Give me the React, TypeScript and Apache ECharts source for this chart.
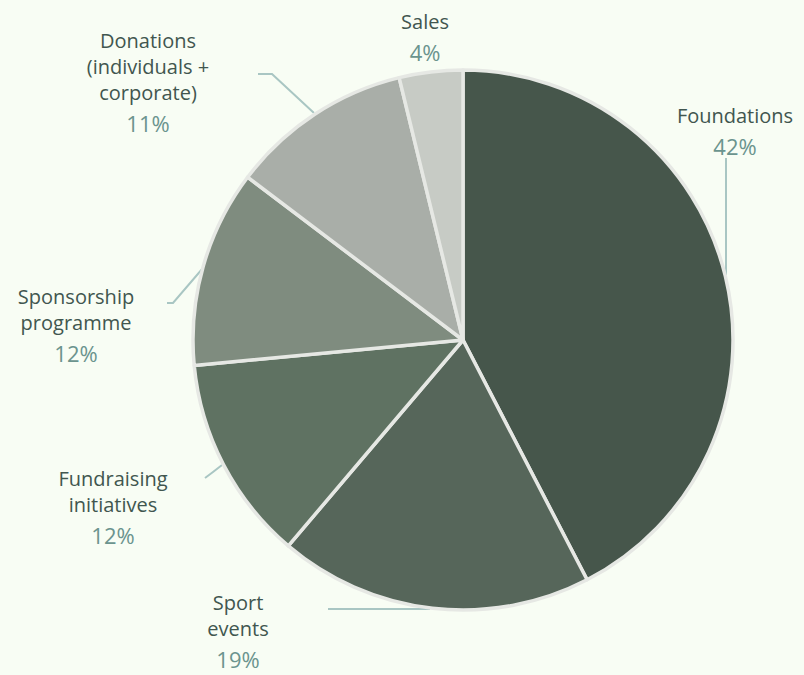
import React, { useEffect, useRef } from "react";
import * as echarts from "echarts";

const categories = [
  "Foundations",
  "Sport\nevents",
  "Fundraising\ninitiatives",
  "Sponsorship\nprogramme",
  "Donations\n(individuals +\ncorporate)",
  "Sales",
];
const values = [42.4, 18.8, 12.3, 11.8, 10.9, 3.8];
const colors = ["#46564b", "#56665a", "#5f7262", "#7f8c7f", "#a9aea8", "#c7cbc5"];

// label anchor (center x, top y) and leader points per slice
const labelAnchors: [number, number][] = [
  [735, 102],
  [238, 589],
  [113, 465],
  [76, 283],
  [148, 27],
  [425, 8],
];
const leaderPoints: number[][][] = [
  [[726, 275], [726, 215], [726, 158]],
  [[430, 609], [380, 609], [328, 609]],
  [[222, 465], [213, 472], [205, 478]],
  [[203, 268], [173, 303], [167, 303]],
  [[314, 113], [272, 74], [258, 74]],
  [],
];

export default function App() {
  const ref = useRef<HTMLDivElement>(null);
  useEffect(() => {
    document.body.style.margin = "0";
    document.body.style.background = "#f8fdf4";
    const chart = echarts.init(ref.current!, undefined, { renderer: "svg" });
    chart.setOption({
      animation: false,
      backgroundColor: "#f8fdf4",
      series: [
        {
          type: "pie",
          center: [463, 340],
          radius: 270,
          startAngle: 90,
          clockwise: true,
          avoidLabelOverlap: false,
          emphasis: { disabled: true },
          itemStyle: { borderColor: "#e6e8e4", borderWidth: 3.5 },
          label: {
            show: true,
            formatter: (p: any) => `{n|${p.name}}\n{p|${Math.round(p.percent)}%}`,
            fontFamily: "Open Sans",
            align: "center",
            rich: {
              n: { fontFamily: "Open Sans", fontSize: 20, color: "#41564f", lineHeight: 26, align: "center" },
              p: { fontFamily: "Open Sans", fontSize: 22, color: "#6b948e", lineHeight: 35, align: "center" },
            },
          },
          labelLine: {
            show: true,
            lineStyle: { color: "#a9c6c3", width: 2 },
          },
          labelLayout: (params: any) => {
            const i = params.dataIndex;
            const [x, y] = labelAnchors[i];
            const res: any = { x, y, align: "center", verticalAlign: "top" };
            if (leaderPoints[i].length) res.labelLinePoints = leaderPoints[i];
            return res;
          },
          data: categories.map((name, i) => ({
            name,
            value: values[i],
            itemStyle: { color: colors[i] },
            labelLine: i === 5 ? { show: false } : undefined,
          })),
        },
      ],
    });
    return () => chart.dispose();
  }, []);
  return <div ref={ref} style={{ width: 804, height: 675 }} />;
}
